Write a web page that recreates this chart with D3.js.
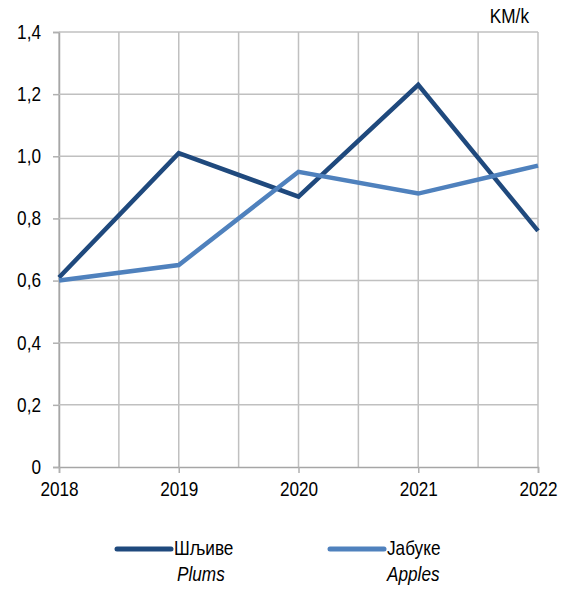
<!DOCTYPE html>
<html>
<head>
<meta charset="utf-8">
<script src="https://cdn.jsdelivr.net/npm/d3@7"></script>
<style>
  body { margin: 0; background: #fff; }
  svg text { font-family: "Liberation Sans", Arial, sans-serif; fill: #000; }
</style>
</head>
<body>
<svg id="chart" width="567" height="591"></svg>
<script>
"use strict";

var years = [2018, 2019, 2020, 2021, 2022];
var plums = [0.61, 1.01, 0.87, 1.23, 0.76];
var apples = [0.60, 0.65, 0.95, 0.88, 0.97];
var yTicks = [0, 0.2, 0.4, 0.6, 0.8, 1.0, 1.2, 1.4];

var series = [
    {name: "Шљиве", sub: "Plums", values: plums, color: "#1f497d"},
    {name: "Јабуке", sub: "Apples", values: apples, color: "#4f81bd"}
];

var margin = {top: 32, left: 59, right: 29, bottom: 124};
var width = 567 - margin.left - margin.right;
var height = 591 - margin.top - margin.bottom;

// no narrow face installed: squeeze regular text horizontally
var narrow = function(sel) {
    sel.each(function() {
        var t = d3.select(this);
        var tx = +t.attr("x") || 0, ty = +t.attr("y") || 0;
        t.attr("x", 0).attr("y", 0)
         .attr("font-size", 20)
         .attr("transform", "translate(" + tx + "," + ty + ") scale(0.86,1)");
    });
};

var svg = d3.select("#chart");
var g = svg.append("g").attr("transform", "translate(" + margin.left + "," + margin.top + ")");

var x = d3.scaleLinear().domain([2018, 2022]).range([0, width]);
var y = d3.scaleLinear().domain([0, 1.4]).range([height, 0]);

var fmt = function(d) { return d === 0 ? "0" : d3.format(".1f")(d).replace(".", ","); };

// vertical grid, every half year
var halfYears = d3.range(2018, 2022.01, 0.5);
g.selectAll(".vgrid").data(halfYears).enter()
    .append("line")
        .attr("x1", function(d) { return x(d); })
        .attr("x2", function(d) { return x(d); })
        .attr("y1", 0)
        .attr("y2", height)
        .attr("stroke", "#c0c0c0")
        .attr("stroke-width", 1.5);

// horizontal grid + y axis
var yAxis = d3.axisLeft(y).tickValues(yTicks).tickSize(6).tickFormat(fmt);
var ya = g.append("g").call(yAxis);
ya.attr("font-family", null);
ya.select(".domain").attr("stroke", "#a6a6a6").attr("stroke-width", 1.5);
ya.selectAll(".tick line").attr("stroke", "#b0b0b0").attr("stroke-width", 1.5);
ya.selectAll(".tick text").attr("x", -18).call(narrow);

g.selectAll(".hgrid").data(yTicks.filter(function(d) { return d > 0; })).enter()
    .append("line")
        .attr("x1", 0)
        .attr("x2", width)
        .attr("y1", function(d) { return y(d); })
        .attr("y2", function(d) { return y(d); })
        .attr("stroke", "#c0c0c0")
        .attr("stroke-width", 1.5);

var xAxis = d3.axisBottom(x).tickValues(years).tickSize(6).tickFormat(d3.format("d"));
var xa = g.append("g").attr("transform", "translate(0," + height + ")").call(xAxis);
xa.attr("font-family", null);
xa.select(".domain").attr("stroke", "#a6a6a6").attr("stroke-width", 1.5);
xa.selectAll(".tick line").attr("stroke", "#b0b0b0").attr("stroke-width", 1.5);
xa.selectAll(".tick text").attr("y", 15).call(narrow);

var line = d3.line()
    .x(function(d, i) { return x(years[i]); })
    .y(function(d) { return y(d); });

g.selectAll(".series").data(series).enter()
    .append("path")
        .attr("d", function(s) { return line(s.values); })
        .attr("fill", "none")
        .attr("stroke", function(s) { return s.color; })
        .attr("stroke-width", 4.5)
        .attr("stroke-linejoin", "miter");

svg.append("text")
    .attr("x", 529)
    .attr("y", 23)
    .attr("text-anchor", "end")
    .text("KM/k")
    .call(narrow);

// legend
var legend = svg.append("g").attr("transform", "translate(117,549)");
var item = legend.selectAll(".legend-item").data(series).enter()
    .append("g")
        .attr("class", "legend-item")
        .attr("transform", function(d, i) { return "translate(" + (i * 213) + ",0)"; });

item.append("line")
    .attr("x1", 0).attr("x2", 54)
    .attr("y1", 0).attr("y2", 0)
    .attr("stroke", function(d) { return d.color; })
    .attr("stroke-width", 5)
    .attr("stroke-linecap", "round");

item.append("text")
    .attr("x", 57)
    .attr("y", 6)
    .text(function(d) { return d.name; })
    .call(narrow);

item.append("text")
    .attr("x", function(d, i) { return i === 0 ? 60 : 57; })
    .attr("y", 32)
    .attr("font-style", "italic")
    .text(function(d) { return d.sub; })
    .call(narrow);
</script>
</body>
</html>
